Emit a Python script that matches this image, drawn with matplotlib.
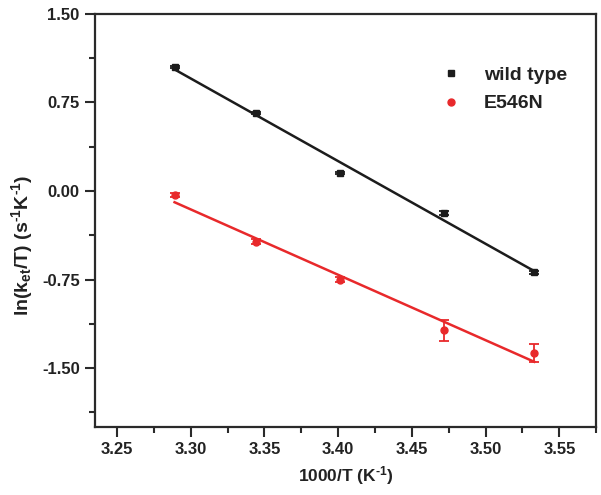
import numpy as np
import matplotlib
matplotlib.use("Agg")
import matplotlib.pyplot as plt
from matplotlib.ticker import MultipleLocator, FormatStrFormatter

plt.rcParams['font.family'] = ['Liberation Sans', 'DejaVu Sans']
plt.rcParams['font.weight'] = 'bold'
plt.rcParams['axes.unicode_minus'] = False
plt.rcParams['mathtext.fontset'] = 'custom'
plt.rcParams['mathtext.rm'] = 'Liberation Sans:bold'
plt.rcParams['mathtext.bf'] = 'Liberation Sans:bold'
plt.rcParams['mathtext.it'] = 'Liberation Sans:bold'
plt.rcParams['mathtext.default'] = 'bf'

# 1000/T values
inv_T = [3.289, 3.344, 3.401, 3.472, 3.533]

wt_y = [1.05, 0.66, 0.155, -0.185, -0.69]
wt_err = [0.01, 0.01, 0.01, 0.015, 0.015]

mut_y = [-0.035, -0.43, -0.75, -1.18, -1.37]
mut_err = [0.015, 0.02, 0.02, 0.09, 0.075]

black = '#1c1c1c'
red = '#e8292b'

fig = plt.figure(figsize=(6.01, 4.95), dpi=100)
ax = fig.add_axes([0.158, 0.137, 0.834, 0.835])

x = np.array(inv_T)

eb1 = ax.errorbar(x, wt_y, yerr=wt_err, fmt='s', color=black, ms=4.5,
                  capsize=3.5, elinewidth=1.3, capthick=1.3, zorder=3)
p1 = np.polyfit(x, wt_y, 1)
ax.plot(x[[0, -1]], np.polyval(p1, x[[0, -1]]), color=black, lw=1.8, zorder=2)

eb2 = ax.errorbar(x, mut_y, yerr=mut_err, fmt='o', color=red, ms=5,
                  capsize=3.5, elinewidth=1.3, capthick=1.3, zorder=3)
p2 = np.polyfit(x, mut_y, 1)
ax.plot(x[[0, -1]], np.polyval(p2, x[[0, -1]]), color=red, lw=1.8, zorder=2)

ax.set_xlim(3.235, 3.575)
ax.set_ylim(-2.0, 1.5)

ax.xaxis.set_major_locator(MultipleLocator(0.05))
ax.xaxis.set_minor_locator(MultipleLocator(0.025))
ax.yaxis.set_major_locator(MultipleLocator(0.75))
ax.yaxis.set_minor_locator(MultipleLocator(0.375))
ax.xaxis.set_major_formatter(FormatStrFormatter('%.2f'))
ax.yaxis.set_major_formatter(FormatStrFormatter('%.2f'))

for s in ax.spines.values():
    s.set_linewidth(1.6)
    s.set_color('#2a2a2a')

ax.tick_params(which='major', direction='out', length=7, width=1.5,
               labelsize=12, colors='#2a2a2a', labelcolor='#222222', pad=4)
ax.tick_params(which='minor', direction='out', length=4, width=1.5, colors='#2a2a2a')
ax.tick_params(top=False, right=False, which='both')

ax.set_xlabel(r'1000/T (K$^{\text{-}1}$)', fontsize=12.5, fontweight='bold', color='#222222', labelpad=5)
ax.set_ylabel(r'ln(k$_{et}$/T) (s$^{\text{-}1}$K$^{\text{-}1}$)', fontsize=14, fontweight='bold',
              color='#222222')
ax.yaxis.set_label_coords(-0.12, 0.44)

leg = ax.legend([eb1[0], eb2[0]], ['wild type', 'E546N'],
                loc='upper left', bbox_to_anchor=(0.656, 0.915), frameon=False,
                fontsize=14, handletextpad=1.2, labelspacing=0.55, handlelength=1.0)
for t in leg.get_texts():
    t.set_fontweight('bold')
    t.set_color('#222222')

fig.savefig('out.png', dpi=100)
